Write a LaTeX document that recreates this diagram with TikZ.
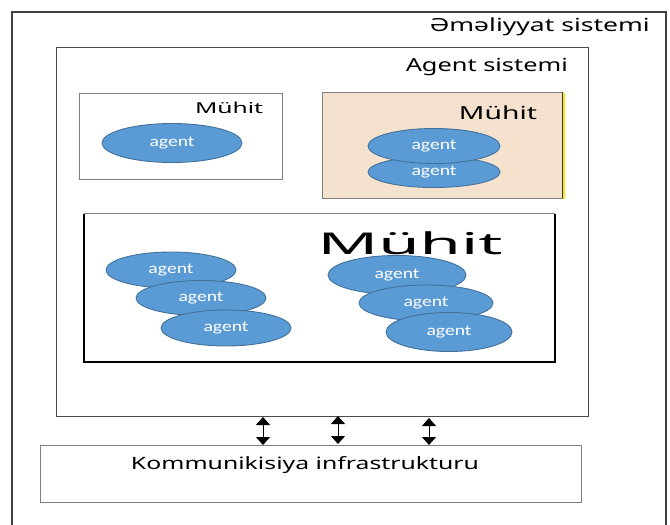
\documentclass[tikz,border=0pt]{standalone}
\usepackage{fontspec}
\setmainfont{Noto Sans}
\newfontfamily\agentfont{Carlito}
\usetikzlibrary{arrows.meta,shapes.geometric}
\definecolor{agfill}{HTML}{5B9BD5}
\definecolor{agline}{HTML}{41719C}
\definecolor{envfill}{HTML}{F5E2CE}
\definecolor{boxline}{HTML}{7F7F7F}
\newcommand{\fitw}[2]{\resizebox{#1}{\height}{#2}}
\tikzset{
  agent/.style={ellipse, draw=agline, line width=0.9pt, fill=agfill, text=white,
    inner sep=0pt, font=\agentfont\fontsize{15}{15}\selectfont},
  lbl/.style={inner sep=0pt, text=black},
  frame/.style={draw=boxline, line width=1pt},
  link/.style={{Triangle[width=14pt,length=8pt]}-{Triangle[width=14pt,length=8pt]}, line width=0.8pt}
}
\begin{document}
\begin{tikzpicture}[x=1pt,y=-1pt]
\useasboundingbox (0,0) rectangle (670,525);
% outer box (bottom is off the page)
\draw[line width=1.2pt, draw=black!75] (12,530) -- (12,12) -- (666,12) -- (666,530);
\node[lbl, anchor=east] (os) at (650,27) {\fontsize{18}{18}\selectfont\fitw{220pt}{Əməliyyat sistemi}};
% agent system
\node[frame, draw=black!70, minimum width=532pt, minimum height=369pt, inner sep=0pt] (as) at (322,231.5) {};
\node[lbl, anchor=east] (ast) at (568,67) {\fontsize{18}{18}\selectfont\fitw{162pt}{Agent sistemi}};
% environment 1
\node[frame, minimum width=203pt, minimum height=86pt, inner sep=0pt] (m1) at (180.5,136) {};
\node[lbl] (m1t) at (229,108) {\fontsize{15}{15}\selectfont\fitw{68pt}{Mühit}};
\node[agent, minimum width=140pt, minimum height=39pt] (a1) at (172,143) {\fitw{45pt}{agent}};
% environment 2
\node[frame, fill=envfill, minimum width=240pt, minimum height=106pt, inner sep=0pt] (m2) at (442,145) {};
\draw[yellow!90!orange, line width=1.5pt] (564,93) -- (564,199);
\draw[black!80, line width=1pt] (562,92) -- (562,198);
\node[lbl] (m2t) at (498,113) {\fontsize{18}{18}\selectfont\fitw{78pt}{Mühit}};
\node[agent, minimum width=132pt, minimum height=31pt] (a2b) at (434,172) {\fitw{45pt}{agent}};
\node[agent, minimum width=132pt, minimum height=35pt] (a2a) at (434,146) {\fitw{45pt}{agent}};
% environment 3
\node[minimum width=471pt, minimum height=148pt, inner sep=0pt] (m3) at (319.5,288) {};
\draw[boxline, line width=1pt] (m3.north west) -- (m3.north east);
\draw[black, line width=2pt] (m3.north west) -- (m3.south west) -- (m3.south east) -- (m3.north east);
\node[lbl] (m3t) at (410,243) {\fontsize{30}{30}\selectfont\fitw{185pt}{Mühit}};
\node[agent, minimum width=130pt, minimum height=36pt] (a3) at (171,270) {\fitw{45pt}{agent}};
\node[agent, minimum width=130pt, minimum height=35pt] (a4) at (201,298) {\fitw{45pt}{agent}};
\node[agent, minimum width=130pt, minimum height=36pt] (a5) at (226,328) {\fitw{45pt}{agent}};
\node[agent, minimum width=138pt, minimum height=39pt] (a6) at (397,275) {\fitw{45pt}{agent}};
\node[agent, minimum width=134pt, minimum height=36pt] (a7) at (426,303) {\fitw{45pt}{agent}};
\node[agent, minimum width=126pt, minimum height=39pt] (a8) at (449,332) {\fitw{45pt}{agent}};
% communication
\node[frame, minimum width=541pt, minimum height=57pt, inner sep=0pt] (ci) at (310.5,473.5) {};
\node[lbl] (cit) at (305,465) {\fontsize{17}{17}\selectfont\fitw{348pt}{Kommunikisiya infrastrukturu}};
% links
\coordinate (u1) at (263,417); \coordinate (d1) at (263,445);
\coordinate (u2) at (338,416); \coordinate (d2) at (338,444);
\coordinate (u3) at (429,418); \coordinate (d3) at (429,445);
\draw[link] (u1) -- (d1);
\draw[link] (u2) -- (d2);
\draw[link] (u3) -- (d3);
\end{tikzpicture}
\end{document}
